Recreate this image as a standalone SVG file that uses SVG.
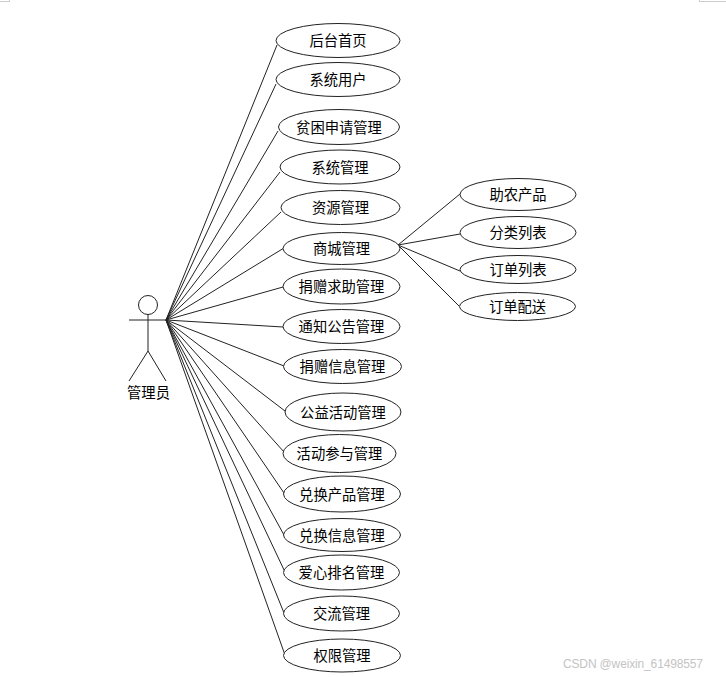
<svg xmlns="http://www.w3.org/2000/svg" width="726" height="677" viewBox="0 0 726 677">
<style>
ellipse{fill:#fff;stroke:#222;stroke-width:1}
line{stroke:#222;stroke-width:1;fill:none}
text{font-family:"Noto Sans CJK SC","Liberation Sans",sans-serif;font-size:14.300px;fill:#000;text-anchor:middle;dominant-baseline:central}
.wm{font-family:"Liberation Sans",sans-serif;font-size:12px;fill:#c4c4c4;text-anchor:start}
.crop{stroke:#ccc}
</style>
<rect width="726" height="677" fill="#fff"/>
<g id="crop-marks"><line class="crop" x1="0" y1="1.500" x2="10" y2="1.500"/><line class="crop" x1="9.500" y1="0" x2="9.500" y2="2"/><line class="crop" x1="699" y1="1.500" x2="726" y2="1.500"/><line class="crop" x1="699.500" y1="0" x2="699.500" y2="2"/></g>
<g id="connectors">
<line x1="166" y1="320" x2="277" y2="45"/>
<line x1="166" y1="320" x2="276" y2="84"/>
<line x1="166" y1="320" x2="278" y2="131"/>
<line x1="166" y1="320" x2="280" y2="172"/>
<line x1="166" y1="320" x2="281" y2="212"/>
<line x1="166" y1="320" x2="284" y2="248"/>
<line x1="166" y1="320" x2="283" y2="287"/>
<line x1="166" y1="320" x2="283" y2="327"/>
<line x1="166" y1="320" x2="284" y2="366"/>
<line x1="166" y1="320" x2="285" y2="411"/>
<line x1="166" y1="320" x2="284" y2="452"/>
<line x1="166" y1="320" x2="284" y2="493"/>
<line x1="166" y1="320" x2="284" y2="535"/>
<line x1="166" y1="320" x2="285" y2="572"/>
<line x1="166" y1="320" x2="284" y2="613"/>
<line x1="166" y1="320" x2="285" y2="655"/>
<line x1="398" y1="245" x2="460" y2="194"/>
<line x1="398" y1="245" x2="460" y2="234"/>
<line x1="398" y1="245" x2="460" y2="271"/>
<line x1="398" y1="245" x2="459" y2="306"/>
</g>
<g id="actor">
<circle cx="148" cy="305" r="9.500" fill="#fff" stroke="#222"/>
<line x1="148" y1="314" x2="148" y2="351" stroke-width="1.500"/>
<line x1="129" y1="320" x2="167" y2="320"/>
<line x1="148" y1="351" x2="129" y2="381"/>
<line x1="148" y1="351" x2="166" y2="381"/>
<text x="148.500" y="391.500">管理员</text>
</g>
<g id="n1"><ellipse cx="338" cy="40.500" rx="62" ry="17"/><text x="338" y="39.500">后台首页</text></g>
<g id="n2"><ellipse cx="338" cy="79.500" rx="62" ry="17"/><text x="338" y="78.500">系统用户</text></g>
<g id="n3"><ellipse cx="339" cy="127" rx="60.500" ry="17.500"/><text x="339" y="126">贫困申请管理</text></g>
<g id="n4"><ellipse cx="340" cy="167" rx="60" ry="17"/><text x="340" y="166">系统管理</text></g>
<g id="n5"><ellipse cx="340.500" cy="207.500" rx="59.500" ry="17"/><text x="340.500" y="206.500">资源管理</text></g>
<g id="n6"><ellipse cx="341.500" cy="248.500" rx="58.500" ry="16"/><text x="341.500" y="247.500">商城管理</text></g>
<g id="n7"><ellipse cx="341.500" cy="286.500" rx="58.500" ry="17.500"/><text x="341.500" y="285.500">捐赠求助管理</text></g>
<g id="n8"><ellipse cx="341.500" cy="326.500" rx="58.500" ry="17"/><text x="341.500" y="325.500">通知公告管理</text></g>
<g id="n9"><ellipse cx="342.500" cy="366.500" rx="59" ry="17"/><text x="342.500" y="365.500">捐赠信息管理</text></g>
<g id="n10"><ellipse cx="343" cy="412" rx="58" ry="19"/><text x="343" y="411">公益活动管理</text></g>
<g id="n11"><ellipse cx="339.500" cy="453.500" rx="56.500" ry="19"/><text x="339.500" y="452.500">活动参与管理</text></g>
<g id="n12"><ellipse cx="342" cy="494" rx="58.500" ry="18"/><text x="342" y="493">兑换产品管理</text></g>
<g id="n13"><ellipse cx="342" cy="535" rx="58.500" ry="16.500"/><text x="342" y="534">兑换信息管理</text></g>
<g id="n14"><ellipse cx="341.500" cy="572.500" rx="58" ry="17.500"/><text x="341.500" y="571.500">爱心排名管理</text></g>
<g id="n15"><ellipse cx="341.500" cy="613.500" rx="58" ry="17.500"/><text x="341.500" y="612.500">交流管理</text></g>
<g id="n16"><ellipse cx="342" cy="655.500" rx="58.500" ry="16.500"/><text x="342" y="654.500">权限管理</text></g>
<g id="n17"><ellipse cx="518" cy="194.500" rx="58" ry="16"/><text x="518" y="193.500">助农产品</text></g>
<g id="n18"><ellipse cx="518" cy="232.500" rx="58" ry="16"/><text x="518" y="231.500">分类列表</text></g>
<g id="n19"><ellipse cx="518" cy="269.500" rx="58" ry="14"/><text x="518" y="268.500">订单列表</text></g>
<g id="n20"><ellipse cx="517.500" cy="306.500" rx="58" ry="14"/><text x="517.500" y="305.500">订单配送</text></g>
<text class="wm" x="563" y="664" textLength="140">CSDN @weixin_61498557</text>
</svg>
